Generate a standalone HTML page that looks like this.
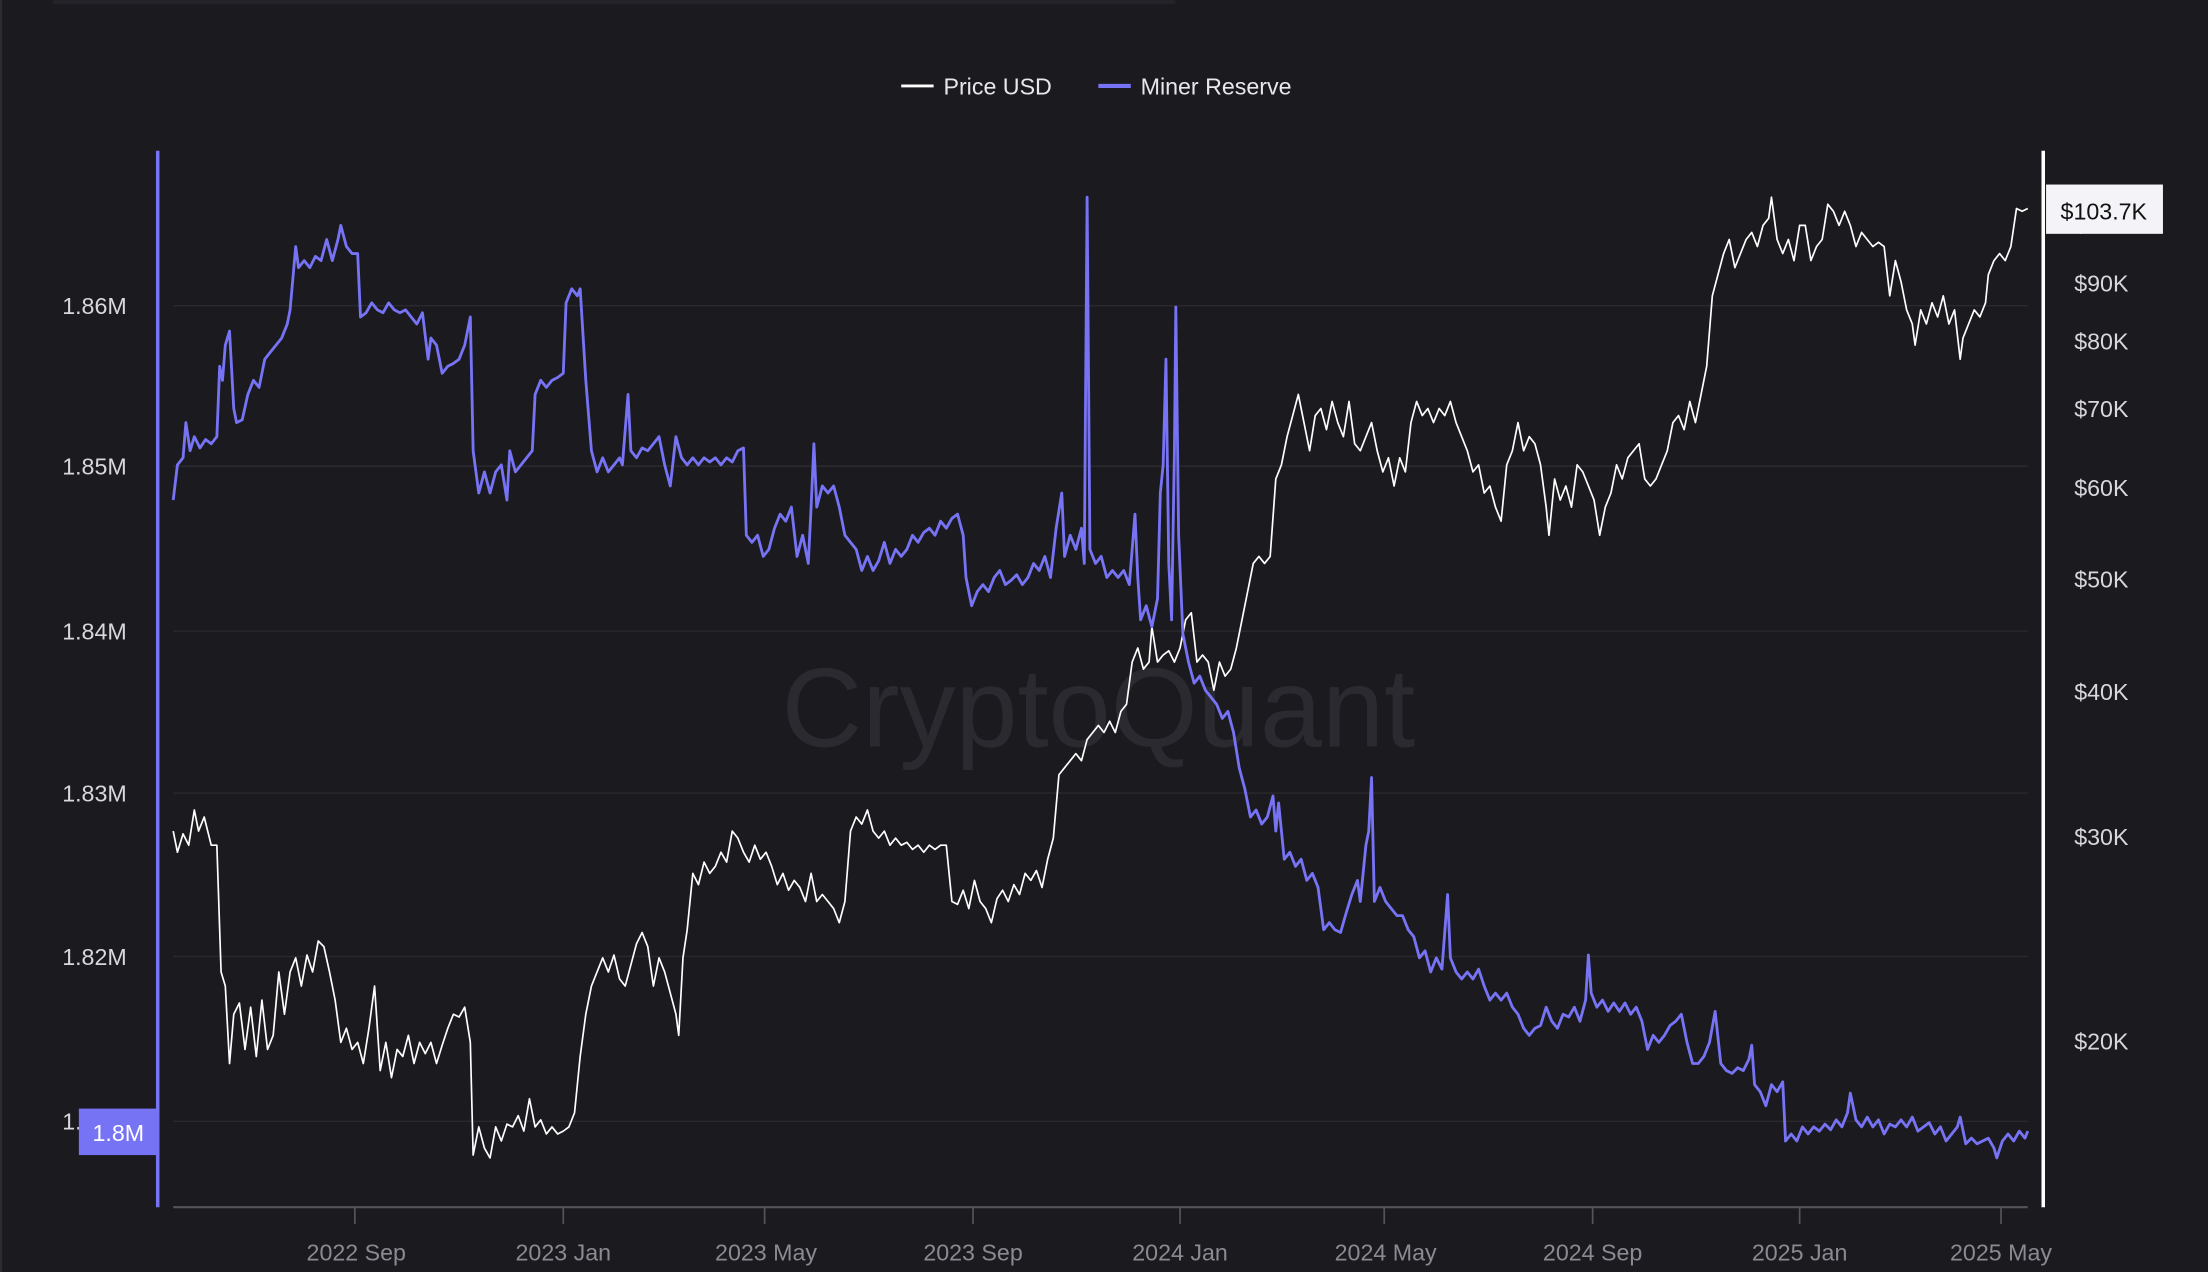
<!DOCTYPE html>
<html><head><meta charset="utf-8"><style>
html,body{margin:0;padding:0;background:#1b1a1f;}
svg{display:block;}
text{font-family:"Liberation Sans",sans-serif;}
</style></head><body>
<svg width="2208" height="1272" viewBox="0 0 1568 903" preserveAspectRatio="none" xmlns="http://www.w3.org/2000/svg">
<rect x="0" y="0" width="1568" height="903" fill="#1b1a1f"/>
<rect x="0" y="0" width="1.5" height="903" fill="#2c2b31"/>
<rect x="37" y="0" width="798" height="3" rx="2" fill="#242329"/>
<!-- legend -->
<line x1="640" y1="61" x2="663" y2="61" stroke="#fff" stroke-width="2"/>
<text x="670" y="67" fill="#e8e8ec" font-size="16.5">Price USD</text>
<line x1="780" y1="61" x2="803" y2="61" stroke="#7773f5" stroke-width="3"/>
<text x="810" y="67" fill="#e8e8ec" font-size="16.5">Miner Reserve</text>
<!-- gridlines -->
<g stroke="#2a292f" stroke-width="1">
<line x1="123" y1="217" x2="1440" y2="217"/>
<line x1="123" y1="331" x2="1440" y2="331"/>
<line x1="123" y1="448" x2="1440" y2="448"/>
<line x1="123" y1="563" x2="1440" y2="563"/>
<line x1="123" y1="679" x2="1440" y2="679"/>
<line x1="123" y1="796" x2="1440" y2="796"/>
</g>
<!-- watermark -->
<text x="555" y="530" fill="#2b2a30" font-size="80" textLength="450" lengthAdjust="spacingAndGlyphs">CryptoQuant</text>
<!-- left labels -->
<g fill="#d8d8dc" font-size="16.5" text-anchor="end">
<text x="90" y="223">1.86M</text>
<text x="90" y="337">1.85M</text>
<text x="90" y="454">1.84M</text>
<text x="90" y="569">1.83M</text>
<text x="90" y="685">1.82M</text>
<text x="90" y="802">1.81M</text>
</g>
<!-- right labels -->
<g fill="#d8d8dc" font-size="16.5">
<text x="1473" y="165">$100K</text>
<text x="1473" y="207">$90K</text>
<text x="1473" y="248">$80K</text>
<text x="1473" y="296">$70K</text>
<text x="1473" y="352">$60K</text>
<text x="1473" y="417">$50K</text>
<text x="1473" y="497">$40K</text>
<text x="1473" y="600">$30K</text>
<text x="1473" y="745">$20K</text>
</g>
<!-- x axis -->
<line x1="123" y1="857" x2="1440" y2="857" stroke="#55545b" stroke-width="1.5"/>
<g stroke="#55545b" stroke-width="1.2">
<line x1="252" y1="857" x2="252" y2="869"/><line x1="400" y1="857" x2="400" y2="869"/>
<line x1="543" y1="857" x2="543" y2="869"/><line x1="691" y1="857" x2="691" y2="869"/>
<line x1="838" y1="857" x2="838" y2="869"/><line x1="983" y1="857" x2="983" y2="869"/>
<line x1="1131" y1="857" x2="1131" y2="869"/><line x1="1278" y1="857" x2="1278" y2="869"/>
<line x1="1421" y1="857" x2="1421" y2="869"/>
</g>
<g fill="#8b8a92" font-size="16.5" text-anchor="middle">
<text x="253" y="895">2022 Sep</text><text x="400" y="895">2023 Jan</text>
<text x="544" y="895">2023 May</text><text x="691" y="895">2023 Sep</text>
<text x="838" y="895">2024 Jan</text><text x="984" y="895">2024 May</text>
<text x="1131" y="895">2024 Sep</text><text x="1278" y="895">2025 Jan</text>
<text x="1421" y="895">2025 May</text>
</g>
<!-- price -->
<polyline fill="none" stroke="#ffffff" stroke-width="1.2" stroke-linejoin="round" points="123,590 126,605 130,592 134,600 138,575 141,590 145,580 150,600 154,600 157,690 160,700 163,755 166,720 170,712 174,745 178,715 182,750 186,710 190,745 194,735 198,690 202,720 206,690 210,680 214,700 218,678 222,690 226,668 230,672 234,690 238,710 242,740 246,730 250,745 254,740 258,755 262,730 266,700 270,760 274,740 278,765 282,745 286,750 290,735 294,755 298,740 302,748 306,740 310,755 314,742 318,730 322,720 326,722 330,715 334,740 336,820 340,800 344,815 348,822 352,800 356,810 360,798 364,800 368,792 372,803 376,780 380,800 384,795 388,805 392,800 396,805 400,803 404,800 408,790 412,750 416,720 420,700 424,690 428,680 432,690 436,678 440,695 444,700 448,685 452,670 456,662 460,672 464,700 468,680 472,690 476,705 480,720 482,735 485,680 488,660 492,620 496,628 500,612 504,620 508,615 512,605 516,612 520,590 524,595 528,605 532,612 536,600 540,610 544,605 548,615 552,628 556,620 560,632 564,625 568,630 572,640 576,620 580,640 584,635 588,640 592,645 596,655 600,640 604,590 608,580 612,585 616,575 620,590 624,595 628,590 632,600 636,595 640,600 644,598 648,603 652,600 656,605 660,600 664,603 668,600 672,600 676,640 680,642 684,632 688,645 692,625 696,640 700,645 704,655 708,638 712,632 716,640 720,628 724,635 728,620 732,625 736,618 740,630 744,610 748,595 752,550 756,545 760,540 764,535 768,540 772,525 776,520 780,515 784,520 788,512 792,520 796,505 800,500 804,470 808,460 812,475 816,470 818,445 822,470 826,465 830,462 834,470 838,460 842,440 846,435 850,470 854,465 858,470 862,490 866,470 870,480 874,475 878,460 882,440 886,420 890,400 894,395 898,400 902,395 906,340 910,330 914,310 918,295 922,280 926,300 930,320 934,295 938,290 942,305 946,285 950,300 954,310 958,285 962,315 966,320 970,310 974,300 978,320 982,335 986,325 990,345 994,325 998,335 1002,300 1006,285 1010,295 1014,290 1018,300 1022,290 1026,295 1030,285 1034,300 1038,310 1042,320 1046,335 1050,330 1054,350 1058,345 1062,360 1066,370 1070,330 1074,320 1078,300 1082,320 1086,310 1090,315 1094,330 1098,360 1100,380 1104,340 1108,355 1112,345 1116,360 1120,330 1124,335 1128,345 1132,355 1136,380 1140,360 1144,350 1148,330 1152,340 1156,325 1160,320 1164,315 1168,340 1172,345 1176,340 1180,330 1184,320 1188,300 1192,295 1196,305 1200,285 1204,300 1208,280 1212,260 1216,210 1220,195 1224,180 1228,170 1232,190 1236,180 1240,170 1244,165 1248,175 1252,160 1256,155 1258,140 1262,170 1266,180 1270,170 1274,185 1278,160 1282,160 1286,185 1290,175 1294,170 1298,145 1302,150 1306,160 1310,150 1314,160 1318,175 1322,165 1326,170 1330,175 1334,172 1338,175 1342,210 1346,185 1350,200 1354,220 1358,230 1360,245 1364,220 1368,230 1372,215 1376,225 1380,210 1384,230 1388,220 1392,255 1394,240 1398,230 1402,220 1406,225 1410,215 1412,195 1416,185 1420,180 1424,185 1428,175 1432,148 1436,150 1440,148"/>
<!-- miner reserve -->
<polyline fill="none" stroke="#7773f5" stroke-width="2" stroke-linejoin="round" points="123,355 126,330 130,325 132,300 135,320 138,310 142,318 146,312 150,315 154,310 156,260 158,270 160,245 163,235 166,290 168,300 172,298 176,280 180,270 184,275 188,255 192,250 196,245 200,240 204,230 206,220 210,175 212,190 216,185 220,190 224,182 228,185 232,170 236,185 240,170 242,160 246,175 250,180 254,180 256,225 260,222 264,215 268,220 272,222 276,215 280,220 284,222 288,220 292,225 296,230 300,222 304,255 306,240 310,245 314,265 318,260 322,258 326,255 330,245 334,225 336,320 340,350 344,335 348,350 352,335 356,330 360,355 362,320 366,335 370,330 374,325 378,320 380,280 384,270 388,275 392,270 396,268 400,265 402,215 406,205 410,210 412,205 416,270 420,320 424,335 428,325 432,335 436,330 440,325 442,330 446,280 448,320 452,325 456,318 460,320 464,315 468,310 472,330 476,345 480,310 484,325 488,330 492,325 496,330 500,325 504,328 508,325 512,330 516,325 520,328 524,320 528,318 530,380 534,385 538,380 542,395 546,390 550,375 554,365 558,370 562,360 566,395 570,380 574,400 576,360 578,315 580,360 584,345 588,350 592,345 596,360 600,380 604,385 608,390 612,405 616,395 620,405 624,398 628,385 632,400 636,390 640,395 644,390 648,380 652,385 656,378 660,375 664,380 668,370 672,375 676,368 680,365 684,380 686,410 690,430 694,420 698,415 702,420 706,410 710,405 714,415 718,412 722,408 726,415 730,410 734,400 738,405 742,395 746,410 750,375 754,350 756,395 760,380 764,390 768,375 770,400 772,140 774,390 778,400 782,395 786,410 790,405 794,410 798,405 802,415 806,365 808,410 810,440 814,430 818,445 822,425 824,350 826,330 828,255 830,400 832,440 834,320 835,218 837,380 840,450 844,470 848,485 852,480 856,490 860,495 864,500 868,510 872,505 876,520 880,545 884,560 888,580 892,575 896,585 900,580 904,565 906,590 908,570 912,610 916,605 920,615 924,610 928,625 932,620 936,630 940,660 944,655 948,660 952,662 956,648 960,635 964,625 966,640 970,600 972,590 974,552 976,640 980,630 984,640 988,645 992,650 996,650 1000,660 1004,665 1008,680 1012,675 1016,690 1020,680 1024,688 1028,635 1030,680 1034,690 1038,695 1042,690 1046,695 1050,688 1054,700 1058,710 1062,705 1066,710 1070,705 1074,715 1078,720 1082,730 1086,735 1090,730 1094,728 1098,715 1102,725 1106,730 1110,720 1114,722 1118,715 1122,725 1126,710 1128,678 1130,705 1134,715 1138,710 1142,718 1146,712 1150,718 1154,712 1158,720 1162,715 1166,725 1170,745 1174,735 1178,740 1182,735 1186,728 1190,725 1194,720 1198,740 1202,755 1206,755 1210,750 1214,740 1218,718 1222,755 1226,760 1230,762 1234,758 1238,760 1242,752 1244,742 1246,770 1250,775 1254,785 1258,770 1262,775 1266,768 1268,810 1272,805 1276,810 1280,800 1284,805 1288,800 1292,803 1296,798 1300,802 1304,795 1308,800 1312,790 1314,776 1318,795 1322,800 1326,793 1330,800 1334,795 1338,805 1342,798 1346,800 1350,795 1354,800 1358,793 1362,803 1366,800 1370,797 1374,805 1378,800 1382,810 1386,805 1390,800 1392,793 1396,812 1400,808 1404,812 1408,810 1412,808 1416,815 1418,822 1422,810 1426,805 1430,810 1434,803 1438,808 1440,803"/>
<!-- axis lines -->
<line x1="112" y1="107" x2="112" y2="857" stroke="#7773f5" stroke-width="2.5"/>
<line x1="1451" y1="107" x2="1451" y2="857" stroke="#ffffff" stroke-width="2.5"/>
<!-- badges -->
<rect x="56" y="787" width="55" height="33" fill="#7773f5"/>
<text x="84" y="810" fill="#fff" font-size="16.5" text-anchor="middle">1.8M</text>
<rect x="1453" y="131" width="83" height="35" fill="#f4f4f8"/>
<text x="1494" y="156" fill="#111" font-size="16.5" text-anchor="middle">$103.7K</text>
</svg>
</body></html>
